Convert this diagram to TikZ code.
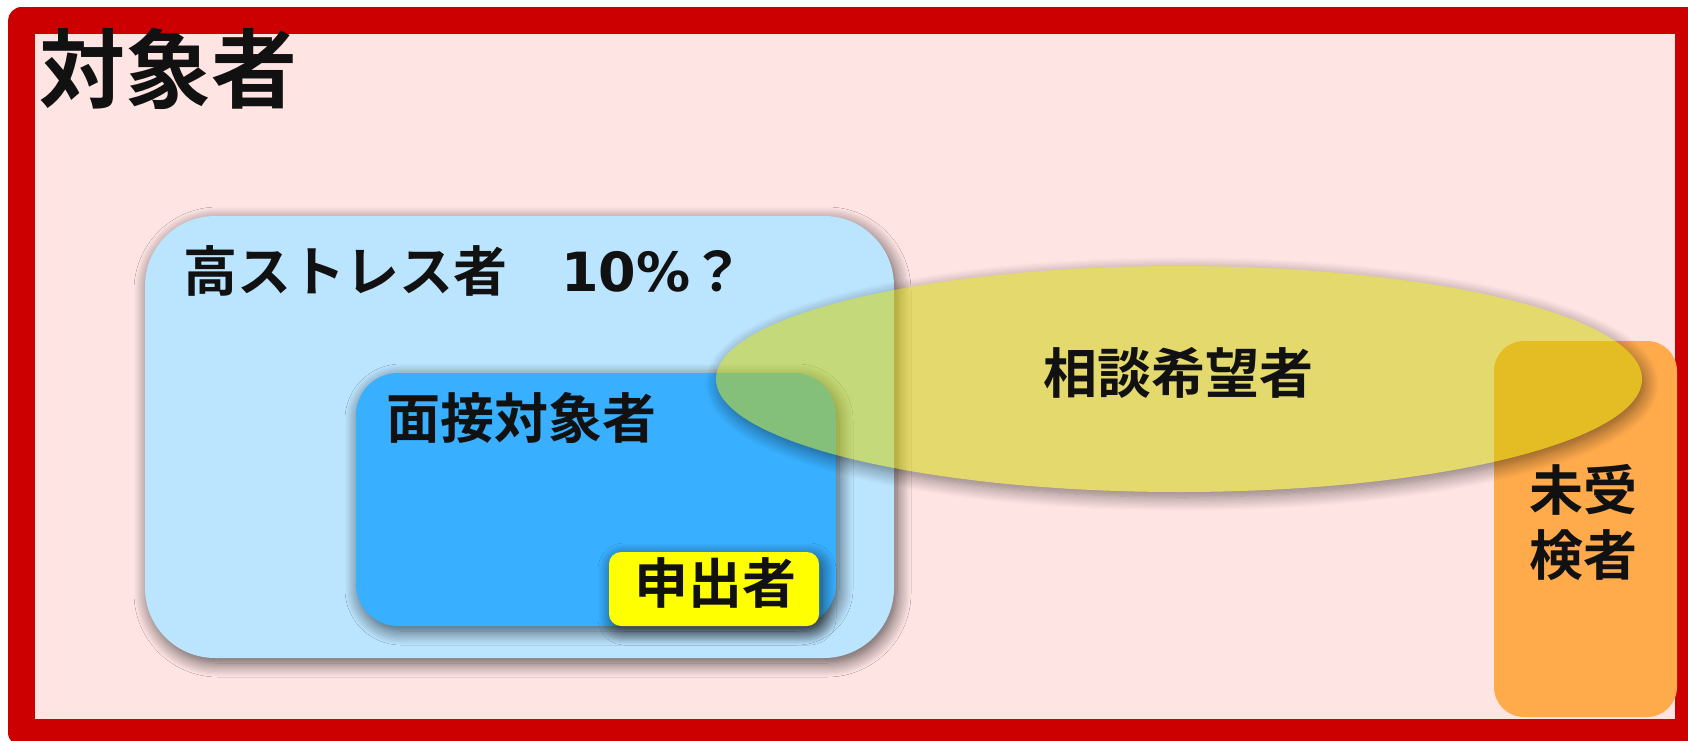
\documentclass[tikz,border=0pt]{standalone}
\usepackage{fontspec}
\usetikzlibrary{shapes.geometric,shadows.blur}
\newfontfamily\jp{Noto Sans CJK JP}[BoldFont={* Bold}]
\newfontfamily\dv{DejaVu Sans}
\definecolor{frameRed}{RGB}{204,0,0}
\definecolor{bgPink}{RGB}{255,228,228}
\definecolor{lightBlue}{RGB}{187,228,254}
\definecolor{midBlue}{RGB}{56,176,255}
\definecolor{boxYellow}{RGB}{255,255,0}
\definecolor{boxOrange}{RGB}{255,171,76}
\definecolor{wishYellow}{RGB}{205,207,0}
\definecolor{ink}{RGB}{17,17,17}
\tikzset{
  sh/.style={blur shadow={shadow xshift=3pt, shadow yshift=-5pt, shadow blur radius=14pt, shadow blur steps=12, shadow opacity=65}},
  area/.style={draw=none, inner sep=0pt, outer sep=0pt},
  lbl/.style={inner sep=0pt, text=ink, font=\jp\bfseries\fontsize{54}{60}\selectfont},
}
\begin{document}
\begin{tikzpicture}[x=1pt,y=-1pt]
\useasboundingbox (0,0) rectangle (1688,741);
% background and frame
\fill[bgPink] (21.5,21) rectangle (1688.5,732.5);
\draw[frameRed, line width=27pt, line join=round] (21.5,21) rectangle (1688.5,732.5);
% high stress group
\node[area, sh, fill=lightBlue, rounded corners=70pt, minimum width=749pt, minimum height=442pt] (high) at (519.5,437) {};
\node[area, sh, fill=midBlue, rounded corners=42pt, minimum width=480pt, minimum height=253pt] (interview) at (596,499.5) {};
\node[area, sh, fill=boxYellow, rounded corners=12pt, minimum width=210pt, minimum height=74pt] (applicant) at (714,589) {};
% not examined
\node[area, fill=boxOrange, rounded corners=30pt, minimum width=183pt, minimum height=376pt] (unexamined) at (1585.5,529) {};
% consultation wish ellipse (semi-transparent, shadow only outside)
\begin{scope}[transparency group, opacity=0.52]
\node[area, ellipse, sh, shadow opacity=95, fill=wishYellow, minimum width=926pt, minimum height=226pt] (wish) at (1179,379) {};
\end{scope}
% texts
\node[lbl, anchor=west, font=\jp\bfseries\fontsize{86}{90}\selectfont] (title) at (39,69) {対象者};
\node[lbl, anchor=west] (highT) at (183,271) {高ストレス者　{\dv\bfseries 10\%}？};
\node[lbl, anchor=west] (interviewT) at (386,418) {面接対象者};
\node[lbl] (applicantT) at (715,583) {申出者};
\node[lbl] (wishT) at (1178,372.5) {相談希望者};
\node[lbl, align=center] (unexT1) at (1583,490) {未受};
\node[lbl, align=center] (unexT2) at (1583,555) {検者};
\end{tikzpicture}
\end{document}
